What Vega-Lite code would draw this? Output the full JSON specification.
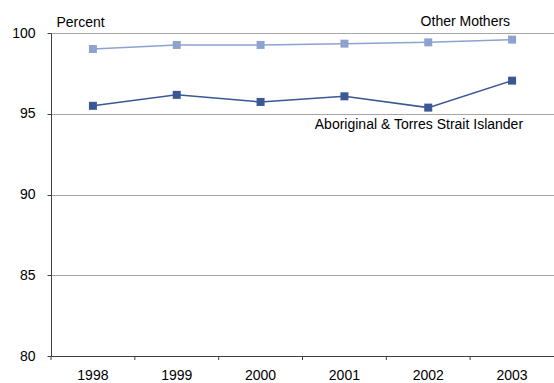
{
  "$schema": "https://vega.github.io/schema/vega-lite/v6.json",
  "width": 503,
  "height": 323,
  "autosize": "none",
  "padding": {"left": 51, "top": 33, "right": 0, "bottom": 27},
  "background": "white",
  "config": {
    "view": {"stroke": null},
    "font": "Liberation Sans",
    "axis": {"labelFont": "Liberation Sans", "labelFontSize": 14, "labelColor": "#000000", "titleFont": "Liberation Sans"},
    "axisX": {"grid": false}
  },
  "datasets": {
    "series": [
      {"year": "1998", "group": "Other Mothers", "value": 99.01},
      {"year": "1999", "group": "Other Mothers", "value": 99.26},
      {"year": "2000", "group": "Other Mothers", "value": 99.26},
      {"year": "2001", "group": "Other Mothers", "value": 99.34},
      {"year": "2002", "group": "Other Mothers", "value": 99.42},
      {"year": "2003", "group": "Other Mothers", "value": 99.59},
      {"year": "1998", "group": "Aboriginal & Torres Strait Islander", "value": 95.49},
      {"year": "1999", "group": "Aboriginal & Torres Strait Islander", "value": 96.17},
      {"year": "2000", "group": "Aboriginal & Torres Strait Islander", "value": 95.73},
      {"year": "2001", "group": "Aboriginal & Torres Strait Islander", "value": 96.08},
      {"year": "2002", "group": "Aboriginal & Torres Strait Islander", "value": 95.38},
      {"year": "2003", "group": "Aboriginal & Torres Strait Islander", "value": 97.05}
    ],
    "labels": [
      {"year": "2003", "group": "Other Mothers", "value": 100.41},
      {"year": "2003", "group": "Aboriginal & Torres Strait Islander", "value": 94.06}
    ]
  },
  "layer": [
    {
      "data": {"name": "series"},
      "mark": {"type": "line", "strokeWidth": 1.5},
      "encoding": {
        "x": {"field": "year", "type": "ordinal", "bandPosition": 0.5,
          "scale": {"type": "band", "paddingInner": 0, "paddingOuter": 0},
          "axis": {"title": null, "labelAngle": 0, "ticks": false, "domainColor": "#404040", "labelPadding": 12, "grid": false}},
        "y": {"field": "value", "type": "quantitative",
          "scale": {"domain": [80, 100], "nice": false, "zero": false},
          "axis": {"values": [80, 85, 90, 95, 100], "tickSize": 4, "tickColor": "#404040", "domainColor": "#404040", "labelPadding": 12, "gridColor": "#A6A6A6", "gridWidth": 1,
            "title": "Percent", "titleAngle": 0, "titleAlign": "left", "titleBaseline": "alphabetic", "titleX": 5, "titleY": -7, "titleFontSize": 14, "titleFontWeight": "normal", "titleColor": "#000000"}},
        "color": {"field": "group", "type": "nominal", "legend": null,
          "scale": {"domain": ["Other Mothers", "Aboriginal & Torres Strait Islander"], "range": ["#8EA2D0", "#3A5796"]}}
      }
    },
    {
      "data": {"name": "series"},
      "transform": [{"filter": "datum.group === 'Other Mothers'"}],
      "mark": {"type": "rule", "color": "#404040", "strokeWidth": 1},
      "encoding": {
        "x": {"field": "year", "type": "ordinal", "bandPosition": 0},
        "y": {"datum": 80},
        "y2": {"datum": 79.75}
      }
    },
    {
      "data": {"name": "series"},
      "mark": {"type": "square", "size": 64, "opacity": 1, "filled": true},
      "encoding": {
        "x": {"field": "year", "type": "ordinal", "bandPosition": 0.5},
        "y": {"field": "value", "type": "quantitative"},
        "color": {"field": "group", "type": "nominal", "legend": null}
      }
    },
    {
      "data": {"name": "labels"},
      "transform": [{"filter": "datum.group === 'Other Mothers'"}],
      "mark": {"type": "text", "align": "right", "baseline": "alphabetic", "fontSize": 14, "font": "Liberation Sans", "color": "#000000", "dx": -2},
      "encoding": {
        "x": {"field": "year", "type": "ordinal", "bandPosition": 0.5},
        "y": {"field": "value", "type": "quantitative"},
        "text": {"field": "group"}
      }
    },
    {
      "data": {"name": "labels"},
      "transform": [{"filter": "datum.group !== 'Other Mothers'"}],
      "mark": {"type": "text", "align": "right", "baseline": "alphabetic", "fontSize": 14, "font": "Liberation Sans", "color": "#000000", "dx": 11},
      "encoding": {
        "x": {"field": "year", "type": "ordinal", "bandPosition": 0.5},
        "y": {"field": "value", "type": "quantitative"},
        "text": {"field": "group"}
      }
    }
  ]
}
